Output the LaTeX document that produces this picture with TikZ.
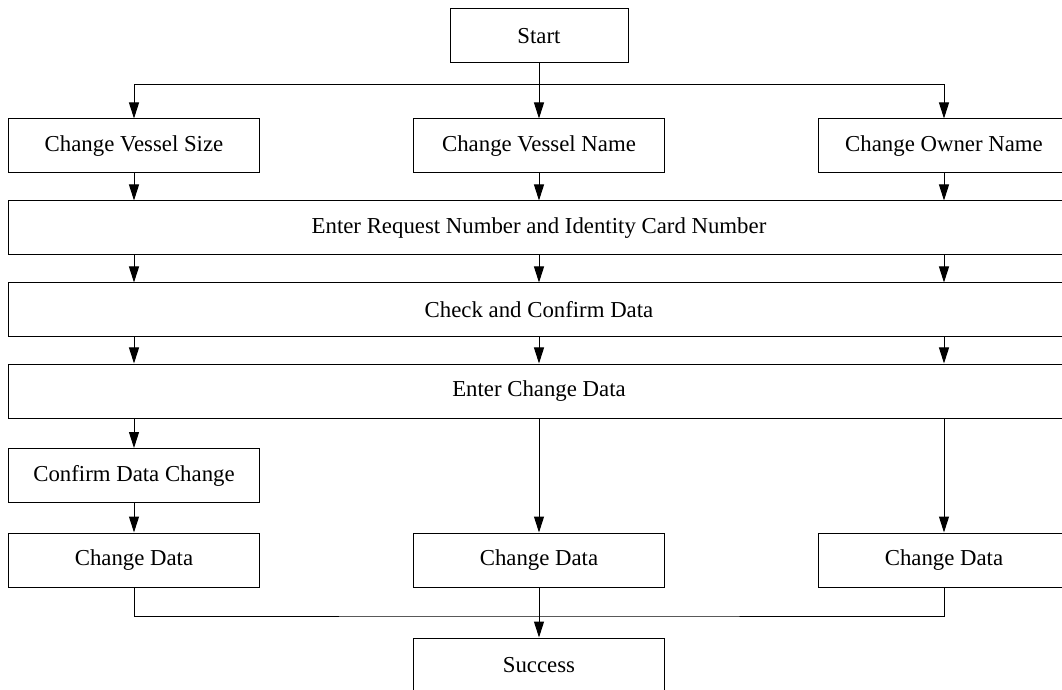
\documentclass[tikz,border=0pt]{standalone}
\usepackage{fontspec}
\setmainfont{Liberation Serif}
\usetikzlibrary{arrows.meta}
\begin{document}
\begin{tikzpicture}[x=0.5pt,y=-0.5pt,
 box/.style={draw, line width=0.5pt, inner sep=0pt, minimum height=27pt, font=\fontsize{11.4}{13}\selectfont},
 small/.style={box, minimum width=125.5pt},
 wide/.style={box, minimum width=531pt},
 arr/.style={line width=0.5pt, -{Triangle[length=8pt,width=5pt]}},
 conn/.style={line width=0.5pt}]
\clip (0,0) rectangle (1062,690);
\node[box, minimum width=89pt] (start) at (539,36) {Start};
\node[small] (size) at (134,146) {Change Vessel Size};
\node[small] (name) at (539,146) {Change Vessel Name};
\node[small] (owner) at (944,146) {Change Owner Name};
\node[wide] (wide1) at (539,228) {Enter Request Number and Identity Card Number};
\node[wide] (wide2) at (539,310) {Check and Confirm Data};
\node[wide] (wide3) at (539,391) {Enter Change Data};
\node[small] (confirm) at (134,475.5) {Confirm Data Change};
\node[small] (cd1) at (134,560) {Change Data};
\node[small] (cd2) at (539,560) {Change Data};
\node[small] (cd3) at (944,560) {Change Data};
\node[small] (success) at (539,665) {Success};
\coordinate (split) at (539,85);
\coordinate (merge) at (539,616);
% start branches
\draw[arr] (start.south) -- (name.north);
\draw[arr] (split) -| (size.north);
\draw[arr] (split) -| (owner.north);
% row 1 to wide1
\draw[arr] (size.south) -- (size.south |- wide1.north);
\draw[arr] (name.south) -- (name.south |- wide1.north);
\draw[arr] (owner.south) -- (owner.south |- wide1.north);
% wide1 to wide2
\draw[arr] (wide1.south -| size) -- (wide2.north -| size);
\draw[arr] (wide1.south -| name) -- (wide2.north -| name);
\draw[arr] (wide1.south -| owner) -- (wide2.north -| owner);
% wide2 to wide3
\draw[arr] (wide2.south -| size) -- (wide3.north -| size);
\draw[arr] (wide2.south -| name) -- (wide3.north -| name);
\draw[arr] (wide2.south -| owner) -- (wide3.north -| owner);
% wide3 down
\draw[arr] (wide3.south -| confirm) -- (confirm.north);
\draw[arr] (wide3.south -| cd2) -- (cd2.north);
\draw[arr] (wide3.south -| cd3) -- (cd3.north);
\draw[arr] (confirm.south) -- (cd1.north);
% merge
\draw[conn] (cd1.south) |- (merge) -| (cd3.south);
\draw[arr] (cd2.south) -- (success.north);
\end{tikzpicture}
\end{document}
